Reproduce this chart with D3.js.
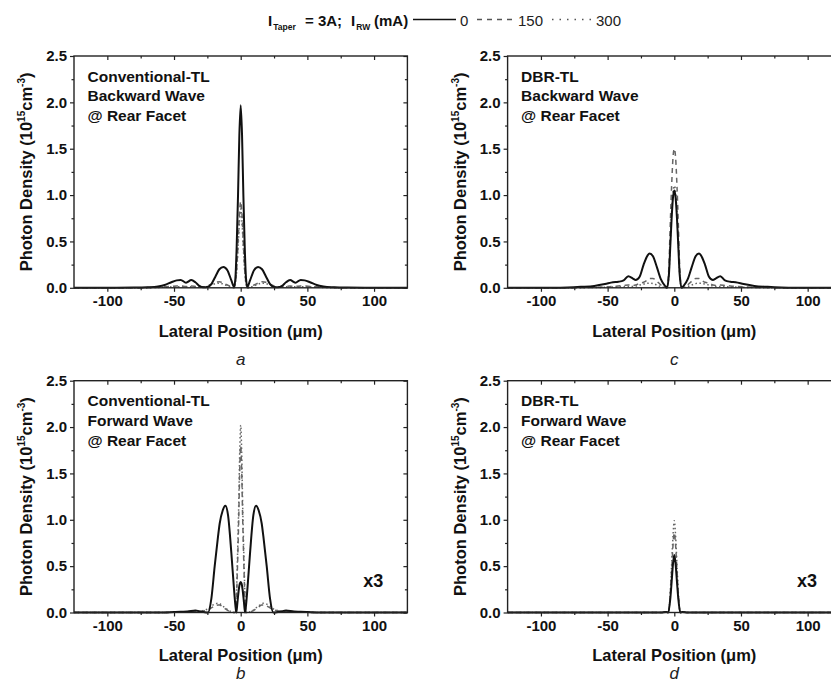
<!DOCTYPE html>
<html>
<head>
<meta charset="utf-8">
<script src="https://cdn.jsdelivr.net/npm/d3@7"></script>
<style>
  body { margin: 0; background: #fff; }
  svg { display: block; font-family: "Liberation Sans", Arial, sans-serif; }
</style>
</head>
<body>
<div id="chart"></div>
<script>
// lateral positions (um) and photon densities (1e15 cm^-3)
const xA = [-125,-100,-80,-70,-62,-57,-52,-48,-45,-41,-37,-34,-31,-28,-25,-22,-19,-16,-13,-10,-7,-5,-4,-3,-2,-1,0,1,2,3,4,5,7,10,13,16,19,22,25,28,31,34,37,41,45,48,52,57,62,70,80,100,125];
const a0   = [0,0,0.002,0.006,0.015,0.03,0.06,0.08,0.085,0.055,0.083,0.06,0.02,0.005,0.008,0.04,0.12,0.2,0.225,0.19,0.08,0.01,0.1,0.45,1.0,1.65,1.97,1.65,1.0,0.45,0.1,0.01,0.08,0.19,0.225,0.2,0.12,0.04,0.008,0.005,0.02,0.06,0.083,0.055,0.085,0.08,0.06,0.03,0.015,0.006,0.002,0,0];
const a150 = [0,0,0,0.002,0.005,0.01,0.015,0.02,0.02,0.015,0.02,0.015,0.01,0.01,0.02,0.04,0.06,0.065,0.05,0.03,0.01,0.0,0.05,0.2,0.47,0.78,0.93,0.78,0.47,0.2,0.05,0.0,0.01,0.03,0.05,0.065,0.06,0.04,0.02,0.01,0.01,0.015,0.02,0.015,0.02,0.02,0.015,0.01,0.005,0.002,0,0,0];
const a300 = [0,0,0,0.001,0.003,0.006,0.01,0.012,0.012,0.01,0.012,0.01,0.008,0.008,0.015,0.03,0.045,0.05,0.04,0.02,0.008,0.0,0.04,0.18,0.42,0.7,0.85,0.7,0.42,0.18,0.04,0.0,0.008,0.02,0.04,0.05,0.045,0.03,0.015,0.008,0.008,0.01,0.012,0.01,0.012,0.012,0.01,0.006,0.003,0.001,0,0,0];

const xC = [-125,-90,-80,-70,-60,-52,-46,-42,-38,-34.5,-31,-29,-26,-23,-20,-18.5,-16,-13,-10,-7,-5.5,-4,-3,-2,-1,0,1,2,3,4,5.5,7,10,13,16,18.5,20,23,26,29,31,34.5,38,42,46,52,60,70,80,90,125];
const c0   = [0,0,0.003,0.01,0.02,0.04,0.06,0.065,0.08,0.125,0.1,0.085,0.12,0.25,0.35,0.37,0.34,0.22,0.09,0.02,0,0.15,0.45,0.75,0.97,1.05,0.97,0.75,0.45,0.15,0,0.02,0.09,0.22,0.34,0.37,0.35,0.25,0.12,0.085,0.1,0.125,0.08,0.065,0.06,0.04,0.02,0.01,0.003,0,0];
const c150 = [0,0,0,0.002,0.005,0.01,0.015,0.02,0.025,0.03,0.025,0.03,0.05,0.06,0.085,0.1,0.1,0.07,0.03,0.005,0,0.25,0.7,1.1,1.4,1.5,1.4,1.1,0.7,0.25,0,0.005,0.03,0.07,0.1,0.1,0.085,0.06,0.05,0.03,0.025,0.03,0.025,0.02,0.015,0.01,0.005,0.002,0,0,0];
const c300 = [0,0,0,0.001,0.003,0.005,0.008,0.01,0.012,0.015,0.015,0.02,0.03,0.04,0.05,0.05,0.045,0.03,0.012,0.003,0,0.15,0.5,0.82,1.03,1.1,1.03,0.82,0.5,0.15,0,0.003,0.012,0.03,0.045,0.05,0.05,0.04,0.03,0.02,0.015,0.015,0.012,0.01,0.008,0.005,0.003,0.001,0,0,0];

const xB = [-125,-60,-50,-45,-40,-34,-30,-27,-24.5,-22,-19.5,-17,-15.75,-13.5,-11.5,-9.5,-7,-5,-4,-3.3,-2.5,-1.5,-0.7,0,0.7,1.5,2.5,3.3,4,5,7,9.5,11.5,13.5,15.75,17,19.5,22,24.5,27,30,34,40,45,50,60,125];
const b0   = [0,0,0.005,0.008,0.01,0.022,0.01,0.002,0,0.15,0.5,0.82,0.96,1.1,1.15,1.05,0.64,0.25,0.08,0,0.1,0.24,0.31,0.33,0.31,0.24,0.1,0,0.08,0.25,0.64,1.05,1.15,1.1,0.96,0.82,0.5,0.15,0,0.002,0.01,0.022,0.01,0.008,0.005,0,0];
const b150 = [0,0,0.002,0.004,0.006,0.01,0.012,0.02,0.03,0.05,0.07,0.08,0.08,0.06,0.04,0.02,0.005,0,0,0.1,0.45,1.0,1.55,1.8,1.55,1.0,0.45,0.1,0,0,0.005,0.02,0.04,0.06,0.08,0.08,0.07,0.05,0.03,0.02,0.012,0.01,0.006,0.004,0.002,0,0];
const b300 = [0,0,0.003,0.005,0.008,0.012,0.015,0.025,0.04,0.07,0.09,0.1,0.095,0.07,0.05,0.025,0.008,0,0,0.15,0.55,1.15,1.75,2.02,1.75,1.15,0.55,0.15,0,0,0.008,0.025,0.05,0.07,0.095,0.1,0.09,0.07,0.04,0.025,0.015,0.012,0.008,0.005,0.003,0,0];

const xD = [-125,-10,-6,-4.5,-3,-2,-1,0,1,2,3,4.5,6,10,125];
const d0   = [0,0,0.005,0,0.15,0.33,0.52,0.62,0.52,0.33,0.15,0,0.005,0,0];
const d150 = [0,0,0.005,0,0.2,0.45,0.72,0.86,0.72,0.45,0.2,0,0.005,0,0];
const d300 = [0,0,0.005,0,0.22,0.52,0.82,0.99,0.82,0.52,0.22,0,0.005,0,0];

const xTicks = [-100, -50, 0, 50, 100];
const xMinor = [-75, -25, 25, 75];
const yTicks = [0, 0.5, 1.0, 1.5, 2.0, 2.5];
const yMinor = [0.25, 0.75, 1.25, 1.75, 2.25];
const currents = ["0", "150", "300"];

const panels = [
  {left: 74,  top: 56,  xs: xA, series: [a0, a150, a300], lines: ["Conventional-TL", "Backward Wave", "@ Rear Facet"], tag: "a", x3: false},
  {left: 507.6, top: 56,  xs: xC, series: [c0, c150, c300], lines: ["DBR-TL", "Backward Wave", "@ Rear Facet"], tag: "c", x3: false},
  {left: 74,  top: 380.7, xs: xB, series: [b0, b150, b300], lines: ["Conventional-TL", "Forward Wave", "@ Rear Facet"], tag: "b", x3: true},
  {left: 507.6, top: 380.7, xs: xD, series: [d0, d150, d300], lines: ["DBR-TL", "Forward Wave", "@ Rear Facet"], tag: "d", x3: true}
];

const width = 831, height = 686;
const plotW = 333.4, plotH = 231.8;

const styles = [
  {stroke: "#111", width: 2, dash: null},
  {stroke: "#666", width: 1.5, dash: "5,4"},
  {stroke: "#666", width: 1.5, dash: "1.5,2.5"}
];

const svg = d3.select("#chart").append("svg")
  .attr("width", width)
  .attr("height", height);

svg.append("rect").attr("width", width).attr("height", height).attr("fill", "#fff");

// legend header, pieces placed one by one
const legParts = [
  {x: 268, text: "I", sub: "Taper"},
  {x: 305, text: "= 3A;"},
  {x: 351, text: "I", sub: "RW"},
  {x: 374, text: "(mA)"}
];
legParts.forEach(d => {
  const t = svg.append("text")
    .attr("x", d.x).attr("y", 26)
    .attr("font-size", 15).attr("font-weight", "bold").attr("fill", "#111");
  t.append("tspan").text(d.text);
  if (d.sub) t.append("tspan").attr("font-size", 8.5).attr("dy", 4).attr("dx", 1).text(d.sub);
});

const legItems = [
  {x1: 413, x2: 456, lx: 460},
  {x1: 477, x2: 512, lx: 518},
  {x1: 552, x2: 594, lx: 596}
];
legItems.forEach((d, i) => {
  svg.append("line")
    .attr("x1", d.x1).attr("x2", d.x2).attr("y1", 19.5).attr("y2", 19.5)
    .attr("stroke", i === 0 ? "#111" : "#555")
    .attr("stroke-width", i === 0 ? 1.6 : 1.3)
    .attr("stroke-dasharray", i === 0 ? null : (i === 1 ? "5,5" : "1.5,6"));
  svg.append("text")
    .attr("x", d.lx).attr("y", 26)
    .attr("font-size", 15).attr("fill", "#222")
    .text(currents[i]);
});

panels.forEach((p, pi) => {
  const g = svg.append("g").attr("transform", `translate(${p.left}, ${p.top})`);

  const xScale = d3.scaleLinear().domain([-125, 125]).range([0, plotW]);
  const yScale = d3.scaleLinear().domain([0, 2.5]).range([plotH, 0]);

  // curves
  const line = d3.line()
    .x(d => xScale(d[0]))
    .y(d => yScale(d[1]))
    .curve(d3.curveMonotoneX);

  [2, 1, 0].forEach(k => {
    const pts = p.xs.map((x, i) => [x, p.series[k][i]]);
    g.append("path")
      .attr("d", line(pts))
      .attr("fill", "none")
      .attr("stroke", styles[k].stroke)
      .attr("stroke-width", styles[k].width)
      .attr("stroke-dasharray", styles[k].dash);
  });

  // axes: outward on bottom/left, mirrored inward on top/right
  const axisStyle = sel => {
    sel.select(".domain").remove();
    sel.selectAll("line").attr("stroke", "#222").attr("stroke-width", 1.2);
    sel.selectAll("text").attr("font-size", 15).attr("font-weight", "bold").attr("fill", "#111");
  };

  g.append("g").attr("transform", `translate(0, ${plotH})`)
    .call(d3.axisBottom(xScale).tickValues(xTicks).tickSize(4).tickPadding(4).tickFormat(d => String(d)))
    .call(axisStyle);
  g.append("g").attr("transform", `translate(0, ${plotH})`)
    .call(d3.axisBottom(xScale).tickValues(xMinor).tickSize(2.5).tickFormat(""))
    .call(axisStyle);
  g.append("g")
    .call(d3.axisTop(xScale).tickValues(xTicks).tickSize(-4).tickFormat(""))
    .call(axisStyle);
  g.append("g")
    .call(d3.axisTop(xScale).tickValues(xMinor).tickSize(-2.5).tickFormat(""))
    .call(axisStyle);

  g.append("g")
    .call(d3.axisLeft(yScale).tickValues(yTicks).tickSize(4).tickPadding(3).tickFormat(d3.format(".1f")))
    .call(axisStyle);
  g.append("g")
    .call(d3.axisLeft(yScale).tickValues(yMinor).tickSize(2.5).tickFormat(""))
    .call(axisStyle);
  g.append("g").attr("transform", `translate(${plotW}, 0)`)
    .call(d3.axisRight(yScale).tickValues(yTicks).tickSize(-4).tickFormat(""))
    .call(axisStyle);
  g.append("g").attr("transform", `translate(${plotW}, 0)`)
    .call(d3.axisRight(yScale).tickValues(yMinor).tickSize(-2.5).tickFormat(""))
    .call(axisStyle);

  g.append("rect")
    .attr("width", plotW).attr("height", plotH)
    .attr("fill", "none").attr("stroke", "#222").attr("stroke-width", 1.4);

  // annotation
  p.lines.forEach((t, i) => {
    g.append("text")
      .attr("x", 13.5).attr("y", 25.5 + i * 19.7)
      .attr("font-size", 15.5).attr("font-weight", "bold").attr("fill", "#111")
      .text(t);
  });

  if (p.x3) {
    g.append("text")
      .attr("x", plotW - 24).attr("y", 206)
      .attr("text-anchor", "end")
      .attr("font-size", 18).attr("font-weight", "bold").attr("fill", "#111")
      .text("x3");
  }

  // y label
  const yl = g.append("text")
    .attr("transform", `translate(${-42}, ${plotH / 2}) rotate(-90)`)
    .attr("text-anchor", "middle")
    .attr("font-size", 16.5).attr("font-weight", "bold").attr("fill", "#111");
  yl.append("tspan").text("Photon Density (10");
  yl.append("tspan").attr("font-size", 10).attr("dy", -7).text("15");
  yl.append("tspan").attr("dy", 7).text("cm");
  yl.append("tspan").attr("font-size", 10).attr("dy", -7).text("-3");
  yl.append("tspan").attr("dy", 7).text(")");

  // x label
  g.append("text")
    .attr("x", xScale(0)).attr("y", plotH + 49)
    .attr("text-anchor", "middle")
    .attr("font-size", 16.5).attr("font-weight", "bold").attr("fill", "#111")
    .text("Lateral Position (\u03bcm)");

  // panel tag; bottom row nudged up so the letter stays on the page
  g.append("text")
    .attr("x", xScale(0)).attr("y", pi < 2 ? plotH + 77 : plotH + 67)
    .attr("text-anchor", "middle")
    .attr("font-size", 17).attr("font-style", "italic").attr("fill", "#222")
    .text(p.tag);
});
</script>
</body>
</html>
